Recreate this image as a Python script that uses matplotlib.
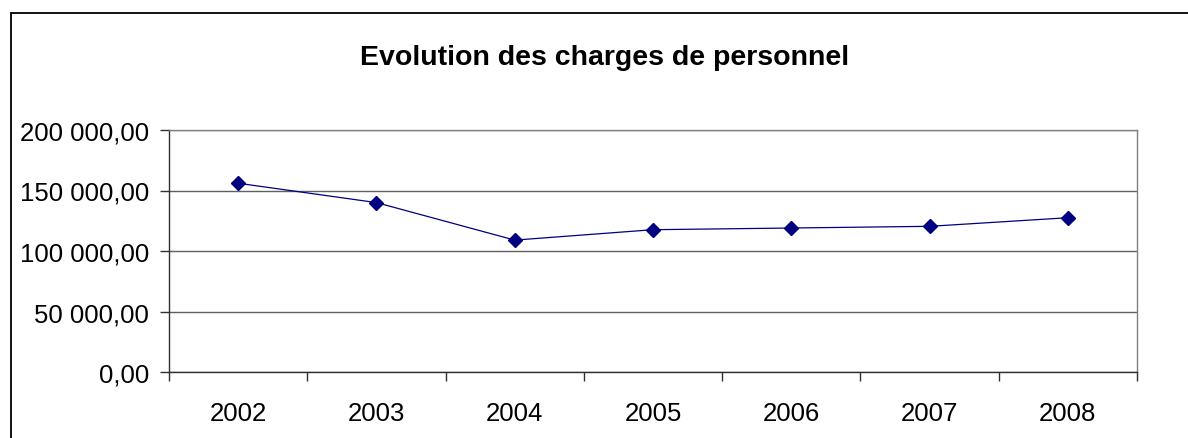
import matplotlib
matplotlib.use('Agg')
from matplotlib import pyplot as plt
from matplotlib.ticker import FuncFormatter, FixedLocator
from matplotlib.patches import Rectangle

plt.rcParams['font.family'] = ['Liberation Sans', 'DejaVu Sans']

# données
annees = ['2002', '2003', '2004', '2005', '2006', '2007', '2008']
charges = [156000, 140000, 109000, 117600, 119000, 120400, 127500]
y_ticks = [0, 50000, 100000, 150000, 200000]


def fmt_fr(v, pos=None):
    s = '{:,.2f}'.format(v)
    return s.replace(',', ' ').replace('.', ',')


fig = plt.figure(figsize=(11.88, 4.39), dpi=100)
ax = fig.add_axes([169 / 1188, 1 - 373 / 439, (1137 - 169) / 1188, (373 - 131) / 439])

x = list(range(len(annees)))
ax.plot(x, charges, color='#000080', lw=0.9, marker='D', ms=7,
        markerfacecolor='#000080', markeredgecolor='#000080', zorder=3)

ax.set_xlim(-0.5, len(annees) - 0.5)
ax.set_ylim(0, 200000)

# graduations y
ax.yaxis.set_major_locator(FixedLocator(y_ticks))
ax.yaxis.set_major_formatter(FuncFormatter(fmt_fr))
ax.grid(axis='y', color='#606060', lw=1.0)
ax.set_axisbelow(True)

# graduations x entre les catégories
ax.xaxis.set_major_locator(FixedLocator([i - 0.5 for i in range(len(annees) + 1)]))
ax.xaxis.set_major_formatter(FuncFormatter(lambda v, p: ''))
ax.xaxis.set_minor_locator(FixedLocator(x))
ax.set_xticklabels(annees, minor=True)

ax.tick_params(axis='both', which='major', direction='out', length=6.5, width=1,
               color='#303030', labelsize=18.5, pad=8)
ax.tick_params(axis='x', which='minor', length=0, labelsize=18.5, pad=21)

for side in ['top', 'right']:
    ax.spines[side].set_color('#808080')
for side in ['left', 'bottom']:
    ax.spines[side].set_color('#303030')
for s in ax.spines.values():
    s.set_linewidth(1)

fig.text(605 / 1188, 1 - 58 / 439, 'Evolution des charges de personnel',
         ha='center', va='center', fontsize=20.5, fontweight='bold')

# cadre du graphique
fig.patches.append(Rectangle((11 / 1188, -0.1), 1.2, 1 - 14 / 439 + 0.1,
                             transform=fig.transFigure, fill=False,
                             edgecolor='black', lw=1.3))

plt.savefig('out.png', dpi=100)
